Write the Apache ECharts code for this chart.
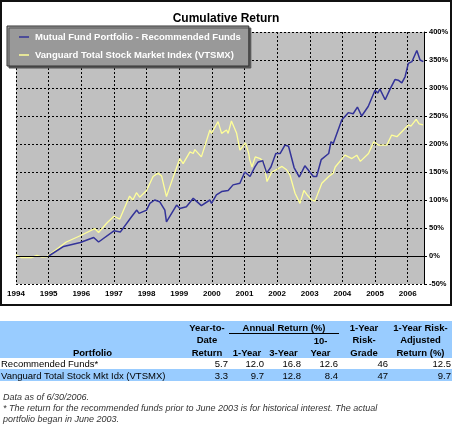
<!DOCTYPE html>
<html>
<head>
<meta charset="utf-8">
<script src="https://cdn.jsdelivr.net/npm/echarts@6/dist/echarts.min.js"></script>
<style>
  html, body { margin: 0; padding: 0; background: #fff; }
  body { width: 452px; height: 425px; position: relative; overflow: hidden; font-family: "Liberation Sans", Arial, sans-serif; }
  #chart { position: absolute; left: 0; top: 0; width: 452px; height: 306px; }
  #frame { position: absolute; left: 0; top: 0; width: 448px; height: 302px; border: 2px solid #111; pointer-events: none; }
  #stats { position: absolute; left: 0; top: 321px; width: 452px; border-collapse: collapse; font-size: 9.5px; color: #000; }
  #stats td { padding: 0 1px; white-space: nowrap; line-height: 11px; }
  #stats tr.hd td { background: #99CCFF; font-weight: bold; text-align: center; height: 12px; }
  #stats tr.r1 td { background: #fff; text-align: right; height: 11px; }
  #stats tr.r2 td { background: #99CCFF; text-align: right; height: 12px; }
  #stats tr td.name { text-align: left; }
  #stats td.ul { border-bottom: 1px solid #000; }
  #note { position: absolute; left: 3px; top: 392px; font-size: 9px; font-style: italic; color: #333; line-height: 11px; }
</style>
</head>
<body>
<div id="chart"></div>
<div id="frame"></div>
<table id="stats">
  <colgroup>
    <col style="width:185px"><col style="width:44px"><col style="width:36px"><col style="width:37px">
    <col style="width:37px"><col style="width:50px"><col style="width:63px">
  </colgroup>
  <tr class="hd"><td></td><td>Year-to-</td><td colspan="3" class="ul">Annual Return (%)</td><td>1-Year</td><td>1-Year Risk-</td></tr>
  <tr class="hd"><td></td><td>Date</td><td></td><td></td><td>10-</td><td>Risk-</td><td>Adjusted</td></tr>
  <tr class="hd"><td>Portfolio</td><td>Return</td><td>1-Year</td><td>3-Year</td><td>Year</td><td>Grade</td><td>Return (%)</td></tr>
  <tr class="r1" id="row1"></tr>
  <tr class="r2" id="row2"></tr>
</table>
<div id="note">Data as of 6/30/2006.<br>* The return for the recommended funds prior to June 2003 is for historical interest. The actual<br>portfolio began in June 2003.</div>
<script>
// 图表数据（年份为小数，值为累计收益 %）
const fundYears = [1995.0, 1995.46, 1995.97, 1996.38, 1996.53, 1997.0, 1997.2, 1997.25,
  1997.54, 1997.7, 1997.77, 1998.0, 1998.1, 1998.25, 1998.4, 1998.56, 1998.61, 1998.92,
  1999.02, 1999.22, 1999.43, 1999.68, 1999.94, 1999.99, 2000.14, 2000.3, 2000.5, 2000.65,
  2000.86, 2001.01, 2001.17, 2001.32, 2001.42, 2001.56, 2001.68, 2001.81, 2001.96, 2002.09,
  2002.24, 2002.35, 2002.52, 2002.68, 2002.85, 2003.11, 2003.21, 2003.35, 2003.58, 2003.65,
  2003.72, 2003.98, 2004.18, 2004.33, 2004.46, 2004.59, 2004.79, 2005.0, 2005.08, 2005.15,
  2005.31, 2005.46, 2005.61, 2005.71, 2005.82, 2005.92, 2006.02, 2006.13, 2006.28, 2006.38, 2006.48];
const fundReturn = [0, 17, 24, 33, 25, 45, 43, 42,
  70, 82, 76, 82, 94, 100, 97, 82, 61, 91,
  85, 88, 103, 90, 100, 94, 109, 115, 117, 127,
  130, 150, 142, 159, 168, 170, 148, 159, 183, 183,
  198, 196, 158, 141, 161, 142, 142, 172, 183, 204,
  201, 243, 256, 254, 266, 250, 267, 296, 291, 298,
  279, 298, 315, 314, 309, 320, 344, 347, 367, 350, 347];

const indexYears = [1994.0, 1994.17, 1994.47, 1994.64, 1994.8, 1994.95, 1995.0, 1995.54, 1996.0, 1996.41, 1996.53,
  1996.77, 1997.0, 1997.18, 1997.48, 1997.58, 1997.69, 1997.79, 1998.0, 1998.2, 1998.35,
  1998.46, 1998.61, 1998.81, 1999.02, 1999.12, 1999.33, 1999.43, 1999.48, 1999.68, 1999.94,
  1999.99, 2000.19, 2000.3, 2000.45, 2000.5, 2000.6, 2000.76, 2000.86, 2000.92, 2001.03,
  2001.13, 2001.16, 2001.23, 2001.33, 2001.48, 2001.59, 2001.69, 2001.84, 2002.0, 2002.15,
  2002.29, 2002.39, 2002.55, 2002.7, 2002.82, 2002.92, 2003.06, 2003.16, 2003.37, 2003.58,
  2003.72, 2003.78, 2004.08, 2004.29, 2004.44, 2004.55, 2004.8, 2004.96, 2005.11, 2005.36,
  2005.51, 2005.67, 2005.82, 2006.02, 2006.1, 2006.26, 2006.35, 2006.47];
const indexReturn = [2, -3, -3, 1, -2, -1, 0, 25, 37, 49, 42,
  58, 71, 66, 107, 100, 113, 105, 117, 142, 148,
  143, 106, 140, 174, 165, 186, 183, 190, 177, 225,
  219, 240, 219, 225, 219, 241, 219, 189, 189, 202,
  183, 172, 159, 177, 174, 168, 133, 150, 155, 160,
  154, 145, 112, 94, 117, 109, 100, 98, 130, 142,
  148, 159, 180, 174, 180, 169, 183, 204, 198, 198,
  216, 213, 222, 234, 232, 244, 236, 234];

const seriesNames = ['Mutual Fund Portfolio - Recommended Funds', 'Vanguard Total Stock Market Index (VTSMX)'];

// 表格数据
const portfolios = ['Recommended Funds*', 'Vanguard Total Stock Mkt Idx (VTSMX)'];
const ytdReturn = ['5.7', '3.3'];
const oneYear = ['12.0', '9.7'];
const threeYear = ['16.8', '12.8'];
const tenYear = ['12.6', '8.4'];
const riskGrade = ['46', '47'];
const riskAdjusted = ['12.5', '9.7'];

['row1', 'row2'].forEach((id, i) => {
    const cells = [portfolios[i], ytdReturn[i], oneYear[i], threeYear[i], tenYear[i], riskGrade[i], riskAdjusted[i]];
    document.getElementById(id).innerHTML = cells
        .map((c, j) => '<td' + (j === 0 ? ' class="name"' : '') + '>' + c + '</td>').join('');
});

const pairs = (xs, ys) => xs.map((x, i) => [x, ys[i]]);
const dashed = { color: '#000', width: 1, type: [2, 2] };

const chart = echarts.init(document.getElementById('chart'));
chart.setOption({
    animation: false,
    title: {
        text: 'Cumulative Return',
        left: 'center',
        top: 8,
        textStyle: { fontFamily: 'Liberation Sans', fontSize: 12, fontWeight: 'bold', color: '#000' }
    },
    legend: {
        orient: 'vertical',
        left: 7,
        top: 26,
        width: 245,
        padding: [6, 8, 6, 12],
        itemGap: 8,
        itemWidth: 10,
        itemHeight: 1.5,
        icon: 'rect',
        backgroundColor: '#999999',
        borderColor: '#333',
        borderWidth: 1,
        shadowColor: '#555',
        shadowOffsetX: 2,
        shadowOffsetY: 2,
        shadowBlur: 0,
        textStyle: { color: '#fff', fontFamily: 'Liberation Sans', fontSize: 9.5, fontWeight: 'bold', lineHeight: 10, padding: [0, 0, 0, 1] },
        data: seriesNames
    },
    grid: {
        left: 16, right: 28, top: 32, bottom: 22,
        show: true, backgroundColor: '#C0C0C0', borderWidth: 0
    },
    xAxis: {
        type: 'value',
        min: 1994, max: 2006.5, interval: 1,
        axisLine: { show: false },
        axisTick: { show: false },
        axisLabel: {
            margin: 6, color: '#000', fontFamily: 'Liberation Sans', fontSize: 8, fontWeight: 'bold',
            showMaxLabel: false,
            formatter: v => Number.isInteger(v) ? String(v) : ''
        },
        splitLine: { show: true, lineStyle: dashed }
    },
    yAxis: {
        type: 'value',
        position: 'right',
        min: -50, max: 400, interval: 50,
        axisLine: { show: true, lineStyle: { color: '#000', width: 1 } },
        axisTick: { show: true, length: 3, lineStyle: { color: '#000' } },
        axisLabel: { margin: 5, color: '#000', fontFamily: 'Liberation Sans', fontSize: 7.5, fontWeight: 'bold', formatter: '{value}%' },
        splitLine: { show: true, lineStyle: dashed }
    },
    series: [
        {
            name: seriesNames[1],
            type: 'line',
            symbol: 'none',
            data: pairs(indexYears, indexReturn),
            lineStyle: { color: '#FFFF99', width: 1.3 },
            itemStyle: { color: '#FFFF99' },
            z: 3,
            markLine: {
                silent: true, symbol: 'none', label: { show: false },
                lineStyle: { color: '#000', width: 1, type: 'solid' },
                data: [{ yAxis: 0 }]
            }
        },
        {
            name: seriesNames[0],
            type: 'line',
            symbol: 'none',
            data: pairs(fundYears, fundReturn),
            lineStyle: { color: '#333399', width: 1.5 },
            itemStyle: { color: '#333399' },
            z: 4
        }
    ]
});
</script>
</body>
</html>
